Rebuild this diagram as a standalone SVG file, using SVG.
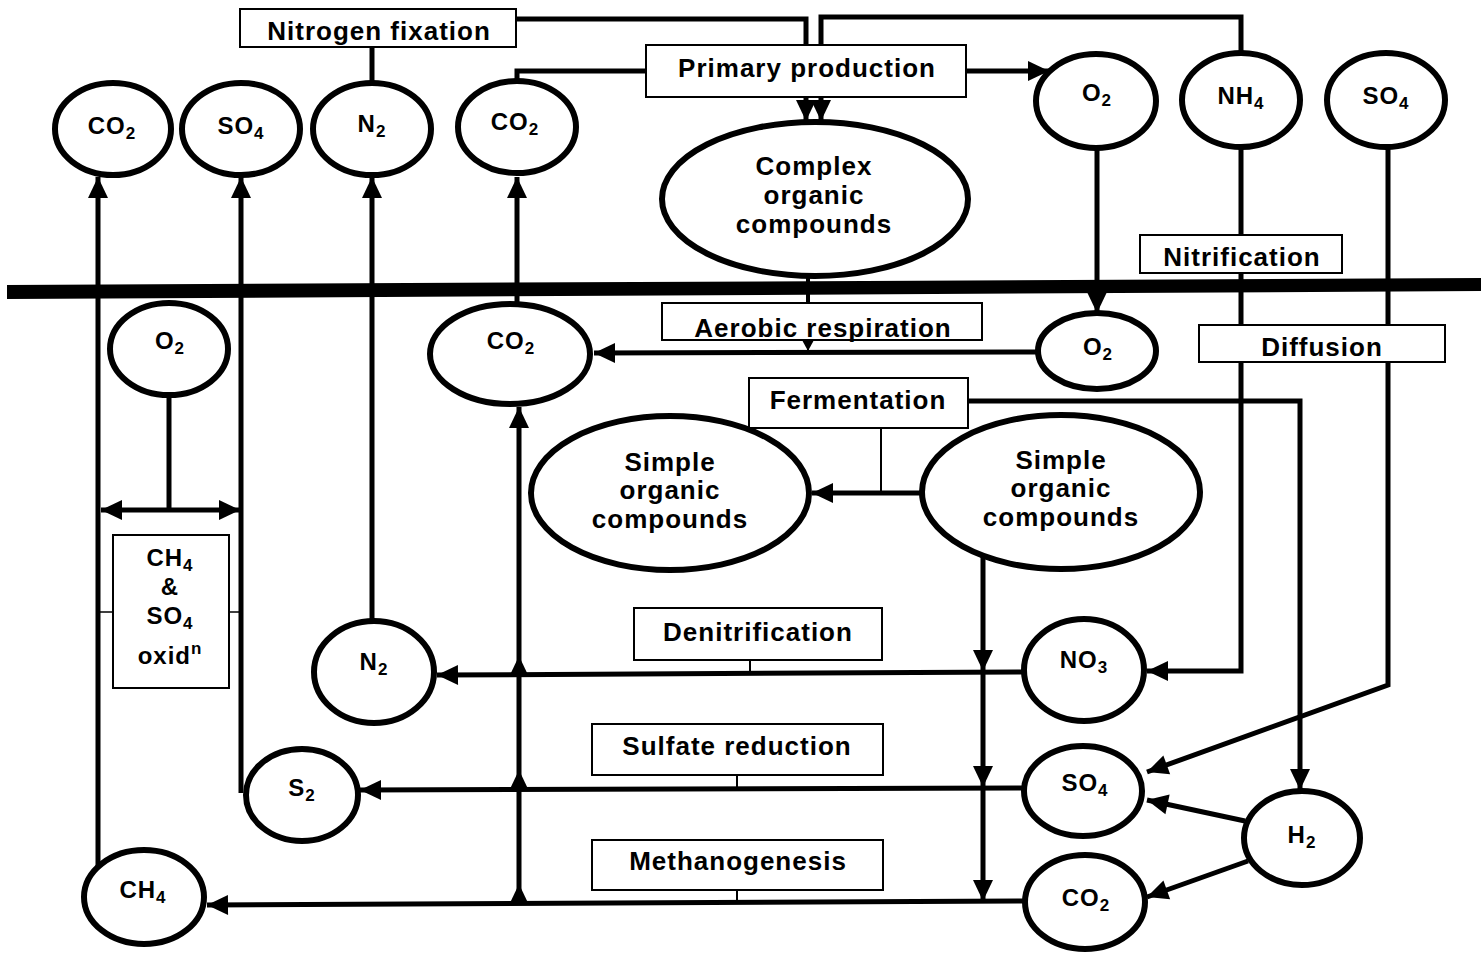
<svg xmlns="http://www.w3.org/2000/svg" width="1481" height="956" viewBox="0 0 1481 956">
<style>
.n{fill:#fff;stroke:#000;stroke-width:6}
.b{fill:#fff;stroke:#000;stroke-width:2}
.c{fill:none;stroke:#000;stroke-width:5}
.t{fill:none;stroke:#000;stroke-width:2}
text{font-family:"Liberation Sans",Arial,Helvetica,sans-serif;font-weight:bold;fill:#000;text-anchor:middle}
.l{font-size:26px;letter-spacing:1px}
.e{font-size:24px;letter-spacing:1px}
.s{font-size:17px}
</style>
<defs>
<marker id="a" markerUnits="userSpaceOnUse" markerWidth="22" markerHeight="20" refX="21" refY="10" orient="auto" overflow="visible">
<path d="M0,0 L21,10 L0,20 Z" fill="#000"/>
</marker>
<marker id="as" markerUnits="userSpaceOnUse" markerWidth="22" markerHeight="20" refX="21" refY="10" orient="auto-start-reverse" overflow="visible">
<path d="M0,0 L21,10 L0,20 Z" fill="#000"/>
</marker>
<marker id="sm" markerUnits="userSpaceOnUse" markerWidth="12" markerHeight="12" refX="11" refY="6" orient="auto" overflow="visible">
<path d="M0,0 L11,6 L0,12 Z" fill="#000"/>
</marker>
</defs>

<g id="connectors">
<path class="c" d="M516,19 L806,19 L806,121" marker-end="url(#a)"/>
<path class="c" d="M1241,54 L1241,17 L821,17 L821,121" marker-end="url(#a)"/>
<path class="c" d="M372,47 L372,84"/>
<path class="c" d="M646,71 L517,71 L517,82"/>
<path class="c" d="M966,71 L1049,71" marker-end="url(#a)"/>
<path class="c" d="M98,867 L98,177" marker-end="url(#a)"/>
<path class="c" d="M241,793 L241,177" marker-end="url(#a)"/>
<path class="c" d="M372,621 L372,177" marker-end="url(#a)"/>
<path class="c" d="M517,304 L517,177" marker-end="url(#a)"/>
<path class="c" d="M1097,149 L1097,313" marker-end="url(#a)"/>
<path class="c" d="M1241,148 L1241,671 L1147,671" marker-end="url(#a)"/>
<path class="c" d="M1388,148 L1388,685 L1147,772" marker-end="url(#a)"/>
<path class="c" style="stroke-width:4" d="M808,276 L808,303"/>
<path class="c" d="M1038,352 L594,353" marker-end="url(#a)"/>
<path class="t" d="M808,340 L808,351" marker-end="url(#sm)"/>
<path class="c" d="M968,401 L1300,401 L1300,790" marker-end="url(#a)"/>
<path class="t" d="M881,428 L881,493"/>
<path class="c" d="M922,493 L812,493" marker-end="url(#a)"/>
<path class="c" d="M983,556 L983,671 L983,787 L983,901" marker-mid="url(#a)" marker-end="url(#a)"/>
<path class="c" d="M519,903 L519,884 L519,770 L519,656 L519,407" marker-mid="url(#a)" marker-end="url(#a)"/>
<path class="c" d="M1024,672 L437,675" marker-end="url(#a)"/>
<path class="c" d="M1024,788 L360,790" marker-end="url(#a)"/>
<path class="c" d="M1025,901 L207,905" marker-end="url(#a)"/>
<path class="t" d="M750,660 L750,673"/>
<path class="t" d="M737,775 L737,789"/>
<path class="t" d="M737,890 L737,903"/>
<path class="c" d="M1245,821 L1147,800" marker-end="url(#a)"/>
<path class="c" d="M1248,861 L1147,897" marker-end="url(#a)"/>
<path class="c" d="M169,395 L169,510"/>
<path class="c" d="M101,510 L240,510" marker-start="url(#as)" marker-end="url(#a)"/>
<path class="t" style="stroke-width:1.5" d="M98,612 L113,612 M229,612 L241,612"/>
</g>

<polygon id="sediment-surface" points="7,285 1481,278 1481,291 7,299" fill="#000"/>

<g id="nitrogen-fixation"><rect class="b" x="240" y="9" width="276" height="38"/><text class="l" x="379" y="40">Nitrogen fixation</text></g>
<g id="primary-production"><rect class="b" x="646" y="45" width="320" height="52"/><text class="l" x="807" y="77">Primary production</text></g>
<g id="nitrification"><rect class="b" x="1140" y="235" width="202" height="38"/><text class="l" x="1242" y="266">Nitrification</text></g>
<g id="aerobic-respiration"><rect class="b" x="662" y="303" width="320" height="37"/><text class="l" x="823" y="337">Aerobic respiration</text></g>
<g id="diffusion"><rect class="b" x="1199" y="325" width="246" height="37"/><text class="l" x="1322" y="356">Diffusion</text></g>
<g id="fermentation"><rect class="b" x="749" y="378" width="219" height="50"/><text class="l" x="858" y="409">Fermentation</text></g>
<g id="ch4-so4-oxidation"><rect class="b" x="113" y="535" width="116" height="153"/>
<text class="e" x="170" y="566">CH<tspan class="s" dy="5">4</tspan></text>
<text class="e" x="170" y="595">&amp;</text>
<text class="e" x="170" y="624">SO<tspan class="s" dy="5">4</tspan></text>
<text class="e" x="170" y="664">oxid<tspan class="s" dy="-10">n</tspan></text></g>
<g id="denitrification"><rect class="b" x="634" y="608" width="248" height="52"/><text class="l" x="758" y="641">Denitrification</text></g>
<g id="sulfate-reduction"><rect class="b" x="592" y="724" width="291" height="51"/><text class="l" x="737" y="755">Sulfate reduction</text></g>
<g id="methanogenesis"><rect class="b" x="592" y="840" width="291" height="50"/><text class="l" x="738" y="870">Methanogenesis</text></g>

<g id="co2-air-1"><ellipse class="n" cx="113" cy="129" rx="58" ry="46"/><text class="e" x="112" y="134">CO<tspan class="s" dy="5">2</tspan></text></g>
<g id="so4-air-1"><ellipse class="n" cx="241" cy="129" rx="59" ry="46"/><text class="e" x="241" y="134">SO<tspan class="s" dy="5">4</tspan></text></g>
<g id="n2-air"><ellipse class="n" cx="372" cy="129" rx="59" ry="46"/><text class="e" x="372" y="132">N<tspan class="s" dy="5">2</tspan></text></g>
<g id="co2-air-2"><ellipse class="n" cx="517" cy="127" rx="59" ry="46"/><text class="e" x="515" y="130">CO<tspan class="s" dy="5">2</tspan></text></g>
<g id="complex-organic"><ellipse class="n" cx="815" cy="199" rx="153" ry="77"/>
<text class="l" x="814" y="175">Complex</text><text class="l" x="814" y="204">organic</text><text class="l" x="814" y="233">compounds</text></g>
<g id="o2-air"><ellipse class="n" cx="1096" cy="101" rx="60" ry="47"/><text class="e" x="1097" y="101">O<tspan class="s" dy="5">2</tspan></text></g>
<g id="nh4-air"><ellipse class="n" cx="1241" cy="100" rx="59" ry="47"/><text class="e" x="1241" y="104">NH<tspan class="s" dy="5">4</tspan></text></g>
<g id="so4-air-2"><ellipse class="n" cx="1386" cy="100" rx="59" ry="47"/><text class="e" x="1386" y="104">SO<tspan class="s" dy="5">4</tspan></text></g>

<g id="o2-sed-left"><ellipse class="n" cx="169" cy="349" rx="59" ry="46"/><text class="e" x="170" y="349">O<tspan class="s" dy="5">2</tspan></text></g>
<g id="co2-sed"><ellipse class="n" cx="510" cy="354" rx="80" ry="50"/><text class="e" x="511" y="349">CO<tspan class="s" dy="5">2</tspan></text></g>
<g id="o2-sed"><ellipse class="n" cx="1097" cy="351" rx="59" ry="38"/><text class="e" x="1098" y="355">O<tspan class="s" dy="5">2</tspan></text></g>
<g id="simple-organic-1"><ellipse class="n" cx="670" cy="493" rx="139" ry="77"/>
<text class="l" x="670" y="471">Simple</text><text class="l" x="670" y="499">organic</text><text class="l" x="670" y="528">compounds</text></g>
<g id="simple-organic-2"><ellipse class="n" cx="1061" cy="492" rx="139" ry="77"/>
<text class="l" x="1061" y="469">Simple</text><text class="l" x="1061" y="497">organic</text><text class="l" x="1061" y="526">compounds</text></g>
<g id="n2-sed"><ellipse class="n" cx="374" cy="672" rx="60" ry="51"/><text class="e" x="374" y="670">N<tspan class="s" dy="5">2</tspan></text></g>
<g id="no3"><ellipse class="n" cx="1084" cy="670" rx="60" ry="51"/><text class="e" x="1084" y="668">NO<tspan class="s" dy="5">3</tspan></text></g>
<g id="s2"><ellipse class="n" cx="302" cy="795" rx="56" ry="46"/><text class="e" x="302" y="796">S<tspan class="s" dy="5">2</tspan></text></g>
<g id="so4-sed"><ellipse class="n" cx="1083" cy="791" rx="59" ry="45"/><text class="e" x="1085" y="791">SO<tspan class="s" dy="5">4</tspan></text></g>
<g id="h2"><ellipse class="n" cx="1302" cy="838" rx="58" ry="47"/><text class="e" x="1302" y="843">H<tspan class="s" dy="5">2</tspan></text></g>
<g id="ch4"><ellipse class="n" cx="144" cy="897" rx="60" ry="47"/><text class="e" x="143" y="898">CH<tspan class="s" dy="5">4</tspan></text></g>
<g id="co2-bottom"><ellipse class="n" cx="1085" cy="902" rx="60" ry="47"/><text class="e" x="1086" y="906">CO<tspan class="s" dy="5">2</tspan></text></g>
</svg>
